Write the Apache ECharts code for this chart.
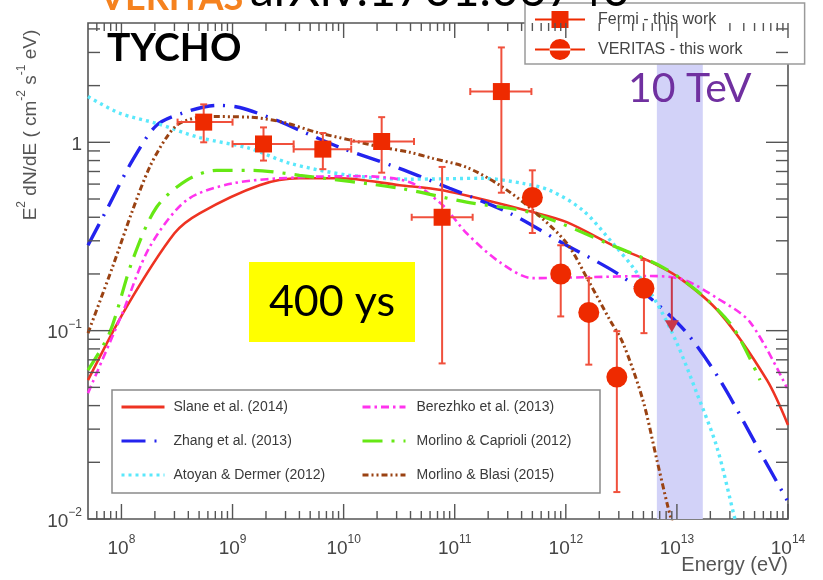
<!DOCTYPE html>
<html>
<head>
<meta charset="utf-8">
<script src="https://cdn.jsdelivr.net/npm/echarts@6/dist/echarts.min.js"></script>
<style>
  html, body { margin: 0; padding: 0; background: #fff; }
  #chart { width: 823px; height: 580px; }
</style>
</head>
<body>
<div id="chart"></div>
<script>
// Tycho SNR gamma-ray SED: Fermi-LAT + VERITAS points with model curves.

// Axis ranges (energy in eV, E^2 dN/dE)
const X_MIN = 5e7, X_MAX = 1e14;
const Y_MIN = 0.01, Y_MAX = 4.3;

// Fermi-LAT points
const fermiE      = [5.5e8, 1.9e9, 6.5e9, 2.2e10, 7.7e10, 2.63e11];
const fermiELo    = [3.2e8, 1.0e9, 3.55e9, 1.17e10, 4.1e10, 1.38e11];
const fermiEHi    = [1.0e9, 3.55e9, 1.17e10, 4.3e10, 1.45e11, 4.9e11];
const fermiFlux   = [1.28, 0.98, 0.92, 1.01, 0.40, 1.86];
const fermiFluxLo = [1.0, 0.80, 0.72, 0.69, 0.067, 0.54];
const fermiFluxHi = [1.59, 1.20, 1.12, 1.36, 0.74, 3.19];

// VERITAS points
const veritasE      = [5.0e11, 9.0e11, 1.61e12, 2.88e12, 5.05e12];
const veritasFlux   = [0.51, 0.20, 0.125, 0.0567, 0.168];
const veritasFluxLo = [0.33, 0.119, 0.066, 0.0139, 0.097];
const veritasFluxHi = [0.71, 0.284, 0.19, 0.0994, 0.237];

// VERITAS upper limit
const ulE    = [9.0e12];
const ulFrom = [0.192];
const ulTo   = [0.098];

// Highlighted energy band around 10 TeV
const bandE = [6.6e12, 1.71e13];

// Model curves: [energy, E^2 dN/dE]
const slane2014 = [[5e7,0.0546],[1.11e8,0.1334],[3.0e8,0.329],[5.05e8,0.420],[1.75e9,0.592],[4.0e9,0.644],[9.2e9,0.644],[3.2e10,0.592],[7.8e10,0.556],[5.05e11,0.426],[1.02e12,0.377],[2.88e12,0.277],[5.37e12,0.237],[1.06e13,0.190],[2.44e13,0.124],[6.47e13,0.0546],[1e14,0.0316]];
const zhang2013 = [[5e7,0.284],[7.33e7,0.436],[1.26e8,0.804],[2.07e8,1.23],[3.55e8,1.43],[7.18e8,1.57],[1.16e9,1.53],[2.49e9,1.31],[4.0e9,1.16],[9.2e9,0.940],[3.0e10,0.736],[9.0e10,0.570],[3.13e11,0.420],[9.4e11,0.291],[2.88e12,0.202],[6.08e12,0.145],[1.23e13,0.097],[2.44e13,0.0546],[5.96e13,0.0213],[9.8e13,0.0126]];
const atoyan2012 = [[5e7,1.75],[9.6e7,1.43],[2.07e8,1.26],[5.05e8,1.06],[1.42e9,0.929],[3.27e9,0.774],[1.13e10,0.668],[3.94e10,0.637],[1.79e11,0.644],[4.1e11,0.605],[7.18e11,0.556],[1.42e12,0.436],[2.65e12,0.291],[4.02e12,0.217],[6.6e12,0.140],[1.0e13,0.0859],[1.51e13,0.0466],[2.29e13,0.0241],[3.33e13,0.0100],[3.6e13,0.0085]];
const berezhko2013 = [[5e7,0.0466],[1.02e8,0.124],[1.79e8,0.277],[3.85e8,0.492],[1.0e9,0.605],[4.0e9,0.652],[1.39e10,0.661],[3.94e10,0.614],[7.8e10,0.463],[1.28e11,0.329],[2.54e11,0.231],[5.05e11,0.190],[1.42e12,0.192],[5.71e12,0.195],[1.13e13,0.187],[2.29e13,0.149],[4.55e13,0.111],[9.8e13,0.0495]];
const morlinoCaprioli2012 = [[5e7,0.0618],[7.8e7,0.0970],[1.26e8,0.237],[2.07e8,0.452],[3.85e8,0.628],[7.18e8,0.710],[1.51e9,0.710],[4.0e9,0.668],[3.2e10,0.570],[1.28e11,0.481],[5.05e11,0.420],[2.88e12,0.277],[7.48e12,0.217],[1.61e13,0.158],[3.2e13,0.104],[5.6e13,0.0546]];
const morlinoBlasi2015 = [[5e7,0.097],[8.3e7,0.217],[1.26e8,0.436],[1.79e8,0.736],[2.54e8,1.06],[3.33e8,1.26],[5.83e8,1.37],[1.42e9,1.36],[2.82e9,1.28],[5.71e9,1.13],[1.13e10,1.03],[2.24e10,0.940],[3.94e10,0.885],[6.34e10,0.822],[1.28e11,0.736],[2.54e11,0.592],[5.05e11,0.436],[1.02e12,0.291],[1.64e12,0.179],[2.49e12,0.114],[3.27e12,0.0859],[4.94e12,0.0428],[6.6e12,0.0206],[8.3e12,0.0116],[9.2e12,0.0093]];

// Axis tick values (decades and 2..9 sub-decades)
const xMajorTicks = [1e8, 1e9, 1e10, 1e11, 1e12, 1e13, 1e14];
const yMajorTicks = [0.01, 0.1, 1];
function subTicks(lo, hi) {
  const out = [];
  for (let d = Math.floor(Math.log10(lo)); d <= Math.ceil(Math.log10(hi)); d++) {
    for (let m = 2; m <= 9; m++) {
      const v = m * Math.pow(10, d);
      if (v > lo && v < hi) out.push(v);
    }
  }
  return out;
}
const xMinorTicks = subTicks(X_MIN, X_MAX);
const yMinorTicks = subTicks(Y_MIN, Y_MAX);

const AXIS_GRAY = '#555';
const LABEL_GRAY = '#454545';
const SANS = 'Liberation Sans';

function powerLabel(v) {
  const e = Math.log10(v);
  const r = Math.round(e);
  if (Math.abs(e - r) > 1e-6) return '';
  if (r === 0) return '{b|1}';
  return '{b|10}{s|' + (r < 0 ? '\u2212' + (-r) : r) + '}';
}
const labelRich = {
  b: { fontSize: 19, fontFamily: SANS, color: LABEL_GRAY, lineHeight: 24, verticalAlign: 'bottom' },
  s: { fontSize: 12, fontFamily: SANS, color: LABEL_GRAY, lineHeight: 12, verticalAlign: 'top' }
};

function errorBars(params, api) {
  const x = api.value(0), y = api.value(1);
  const xl = api.value(2), xh = api.value(3), yl = api.value(4), yh = api.value(5);
  const st = { stroke: '#f0503c', lineWidth: 2 };
  const cap = 3.5;
  const children = [];
  const pl = api.coord([x, yl]), ph = api.coord([x, yh]);
  children.push({ type: 'line', shape: { x1: pl[0], y1: pl[1], x2: ph[0], y2: ph[1] }, style: st });
  children.push({ type: 'line', shape: { x1: pl[0] - cap, y1: pl[1], x2: pl[0] + cap, y2: pl[1] }, style: st });
  children.push({ type: 'line', shape: { x1: ph[0] - cap, y1: ph[1], x2: ph[0] + cap, y2: ph[1] }, style: st });
  if (xh > xl) {
    const ql = api.coord([xl, y]), qh = api.coord([xh, y]);
    children.push({ type: 'line', shape: { x1: ql[0], y1: ql[1], x2: qh[0], y2: qh[1] }, style: st });
    children.push({ type: 'line', shape: { x1: ql[0], y1: ql[1] - cap, x2: ql[0], y2: ql[1] + cap }, style: st });
    children.push({ type: 'line', shape: { x1: qh[0], y1: qh[1] - cap, x2: qh[0], y2: qh[1] + cap }, style: st });
  }
  return { type: 'group', children };
}

function axisTicks(params, api) {
  const lb = api.coord([X_MIN, Y_MIN]);
  const rt = api.coord([X_MAX, Y_MAX]);
  const st = { stroke: AXIS_GRAY, lineWidth: 1.4 };
  const children = [];
  const addX = (vals, len) => vals.forEach(v => {
    const px = api.coord([v, Y_MIN])[0];
    children.push({ type: 'line', shape: { x1: px, y1: lb[1], x2: px, y2: lb[1] - len }, style: st });
    children.push({ type: 'line', shape: { x1: px, y1: rt[1], x2: px, y2: rt[1] + len }, style: st });
  });
  const addY = (vals, len) => vals.forEach(v => {
    const py = api.coord([X_MIN, v])[1];
    children.push({ type: 'line', shape: { x1: lb[0], y1: py, x2: lb[0] + len, y2: py }, style: st });
    children.push({ type: 'line', shape: { x1: rt[0], y1: py, x2: rt[0] - len, y2: py }, style: st });
  });
  addX(xMajorTicks, 15);
  addX(xMinorTicks, 8);
  addY(yMajorTicks, 22);
  addY(yMinorTicks, 12);
  return { type: 'group', children };
}

function curve(name, data, color, width, dash) {
  return {
    type: 'line', name, data, symbol: 'none', smooth: 0.3, z: 3,
    lineStyle: { color, width, type: dash, cap: 'butt' },
    itemStyle: { color },
    silent: true, animation: false
  };
}

const chart = echarts.init(document.getElementById('chart'));

const modelLegend = {
  orient: 'vertical', top: 400, padding: 0,
  itemWidth: 43, itemHeight: 14, itemGap: 20, selectedMode: false,
  itemStyle: { opacity: 0, borderWidth: 0 },
  lineStyle: { width: 3 }
};

const option = {
  animation: false,
  backgroundColor: '#fff',
  grid: { left: 88, right: 35, top: 23, bottom: 61, show: true, borderColor: AXIS_GRAY, borderWidth: 1.6, backgroundColor: 'transparent' },
  xAxis: {
    type: 'log', logBase: 10, min: X_MIN, max: X_MAX,
    axisLine: { show: false }, axisTick: { show: false }, splitLine: { show: false },
    axisLabel: { formatter: powerLabel, rich: labelRich, margin: 15, showMinLabel: true, showMaxLabel: true }
  },
  yAxis: {
    type: 'log', logBase: 10, min: Y_MIN, max: Y_MAX,
    axisLine: { show: false }, axisTick: { show: false }, splitLine: { show: false },
    axisLabel: { formatter: powerLabel, rich: labelRich, margin: 6 }
  },
  legend: [
    {
      data: [
        { name: 'Fermi - this work', icon: 'path://M0,0h0.01v0.01h-0.01z M50,21h-0.01v-0.01h0.01z M0,9.5h50v2h-50z M16.5,2h17v17h-17z' },
        { name: 'VERITAS - this work', icon: 'path://M0,0h0.01v0.01h-0.01z M50,21h-0.01v-0.01h0.01z M0,9.5h50v2h-50z M14.5,10.5a10.5,10.5 0 1,0 21,0a10.5,10.5 0 1,0 -21,0z' }
      ],
      orient: 'vertical', left: 525, top: 3,
      padding: [6, 62, 4, 10], itemWidth: 50, itemHeight: 21, itemGap: 9,
      backgroundColor: '#fff', borderColor: '#9a9a9a', borderWidth: 1.5,
      selectedMode: false,
      textStyle: { fontSize: 16, fontFamily: SANS, color: LABEL_GRAY, padding: [0, 0, 0, 8] }
    },
    Object.assign({}, modelLegend, {
      data: ['Slane et al. (2014)', 'Zhang et al. (2013)', 'Atoyan & Dermer (2012)'],
      left: 120,
      textStyle: { fontSize: 14, fontFamily: SANS, color: '#3a3a3a', padding: [0, 0, 0, 4] }
    }),
    Object.assign({}, modelLegend, {
      data: ['Berezhko et al. (2013)', 'Morlino & Caprioli (2012)', 'Morlino & Blasi (2015)'],
      left: 361,
      textStyle: { fontSize: 14, fontFamily: SANS, color: '#3a3a3a', padding: [0, 0, 0, 6] }
    })
  ],
  graphic: [
    // Bottom legend frame
    { type: 'rect', z: 2, shape: { x: 112, y: 390, width: 488, height: 103 }, style: { fill: '#fff', stroke: '#8a8a8a', lineWidth: 1.5 } },
    // Header line (top part lies outside the page)
    { type: 'text', z: 10, x: 100, y: -2, style: { text: 'VERITAS', font: 'bold 36px Lato', fill: '#f5821f', verticalAlign: 'middle' } },
    { type: 'text', z: 10, x: 250, y: -9, style: { text: 'arXiv:1701.06740', font: '48px Lato', fill: '#000', verticalAlign: 'middle' } },
    // Source name
    { type: 'text', z: 10, x: 107, y: 48, style: { text: 'TYCHO', font: 'bold 39px Lato', fill: '#000', verticalAlign: 'middle' } },
    // Band label
    { type: 'text', z: 10, x: 628, y: 89, style: { text: '10 TeV', font: '41px Lato', fill: '#7030a0', verticalAlign: 'middle' } },
    // Age label
    { type: 'rect', z: 10, shape: { x: 249, y: 262, width: 166, height: 80 }, style: { fill: '#ffff00' } },
    { type: 'text', z: 11, x: 332, y: 302, style: { text: '400 ys', font: '43px Lato', fill: '#000', align: 'center', verticalAlign: 'middle' } },
    // Axis titles
    {
      type: 'text', z: 10, x: 28, y: 125, rotation: Math.PI / 2,
      style: {
        text: '{n|E}{s|2}{n| dN/dE ( cm}{s|-2}{n| s}{s|-1}{n| eV)}',
        align: 'center', verticalAlign: 'middle',
        rich: {
          n: { fontSize: 19, fontFamily: SANS, fill: '#555', lineHeight: 24, verticalAlign: 'bottom' },
          s: { fontSize: 12, fontFamily: SANS, fill: '#555', lineHeight: 13, verticalAlign: 'top' }
        }
      }
    },
    { type: 'text', z: 10, x: 788, y: 565, style: { text: 'Energy (eV)', font: '20px Liberation Sans', fill: '#555', align: 'right', verticalAlign: 'middle' } }
  ],
  series: [
    {
      type: 'custom', name: 'band', silent: true, z: 1,
      data: [[bandE[0], Y_MIN, bandE[1]]],
      renderItem: (p, api) => {
        const a = api.coord([api.value(0), Y_MAX]);
        const b = api.coord([api.value(2), Y_MIN]);
        return { type: 'rect', shape: { x: a[0], y: a[1], width: b[0] - a[0], height: b[1] - a[1] }, style: { fill: '#d2d2f8' } };
      }
    },
    curve('Slane et al. (2014)', slane2014, '#ee3322', 2.6, 'solid'),
    curve('Zhang et al. (2013)', zhang2013, '#2323ee', 3.4, [24, 9, 2, 9]),
    curve('Atoyan & Dermer (2012)', atoyan2012, '#5ae8fb', 3.4, [3, 4]),
    curve('Berezhko et al. (2013)', berezhko2013, '#ff33ee', 2.6, [8, 4, 2.5, 4]),
    curve('Morlino & Caprioli (2012)', morlinoCaprioli2012, '#66e814', 3.2, [20, 9, 3, 9]),
    curve('Morlino & Blasi (2015)', morlinoBlasi2015, '#9a4212', 3, [6, 3, 2, 3, 2, 3]),
    {
      type: 'custom', name: 'fermiErr', silent: true, z: 4,
      data: fermiE.map((e, i) => [e, fermiFlux[i], fermiELo[i], fermiEHi[i], fermiFluxLo[i], fermiFluxHi[i]]),
      renderItem: errorBars
    },
    {
      type: 'custom', name: 'veritasErr', silent: true, z: 4,
      data: veritasE.map((e, i) => [e, veritasFlux[i], e, e, veritasFluxLo[i], veritasFluxHi[i]]),
      renderItem: errorBars
    },
    {
      type: 'scatter', name: 'Fermi - this work', z: 5, symbol: 'rect', symbolSize: 17,
      itemStyle: { color: '#ee2a00', opacity: 1 },
      data: fermiE.map((e, i) => [e, fermiFlux[i]])
    },
    {
      type: 'scatter', name: 'VERITAS - this work', z: 5, symbol: 'circle', symbolSize: 21,
      itemStyle: { color: '#ee2a00', opacity: 1 },
      data: veritasE.map((e, i) => [e, veritasFlux[i]])
    },
    {
      type: 'custom', name: 'upperLimit', silent: true, z: 5,
      data: ulE.map((e, i) => [e, ulFrom[i], ulTo[i]]),
      renderItem: (p, api) => {
        const top = api.coord([api.value(0), api.value(1)]);
        const tip = api.coord([api.value(0), api.value(2)]);
        return {
          type: 'group', children: [
            { type: 'line', shape: { x1: top[0], y1: top[1], x2: tip[0], y2: tip[1] - 8 }, style: { stroke: '#c8384a', lineWidth: 2 } },
            { type: 'polygon', shape: { points: [[tip[0] - 7, tip[1] - 12], [tip[0] + 7, tip[1] - 12], [tip[0], tip[1]]] }, style: { fill: '#c8384a' } }
          ]
        };
      }
    },
    {
      type: 'custom', name: 'ticks', silent: true, z: 6,
      data: [[X_MIN, Y_MIN]],
      renderItem: axisTicks
    }
  ]
};

chart.setOption(option);
</script>
</body>
</html>
